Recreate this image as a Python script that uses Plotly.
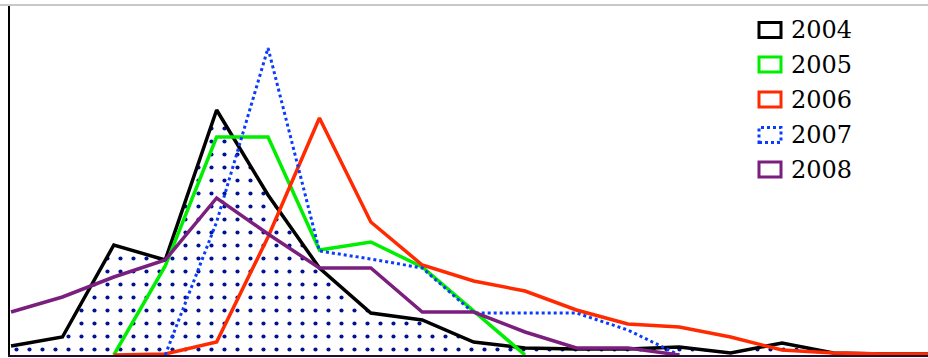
import plotly.graph_objects as go

years = ["2004", "2005", "2006", "2007", "2008"]
bins = list(range(19))

v2004 = [0.9, 1.8, 11.0, 9.5, 24.5, 16.0, 8.7, 4.2, 3.5, 1.3, 0.7, 0.6, 0.6, 0.8, 0.2, 1.2, 0.2, 0.1, 0.1]
v2005 = [None, None, 0, 8.9, 21.8, 21.8, 10.5, 11.3, 8.8, 4.4, 0, None, None, None, None, None, None, None, None]
v2006 = [None, None, 0, 0.1, 1.3, 11.8, 23.7, 13.3, 9.0, 7.4, 6.4, 4.5, 3.1, 2.8, 1.8, 0.5, 0.2, 0.1, 0.1]
v2007 = [None, None, None, 0, 13.3, 30.7, 10.4, 9.6, 8.7, 4.2, 4.2, 4.2, 2.5, 0, None, None, None, None, None]
v2008 = [4.3, 5.8, 7.8, 9.5, 15.7, 12.1, 8.7, 8.7, 4.3, 4.3, 2.3, 0.7, 0.7, 0, None, None, None, None, None]

colors = ["#000000", "#00ee00", "#ff2a00", "#0a3cff", "#7b1f7f"]
series = [v2004, v2005, v2006, v2007, v2008]

fig = go.Figure()
fig.add_trace(go.Scatter(
    x=bins, y=v2004, mode="lines", name="2004", fill="tozeroy",
    fillcolor="white",
    fillpattern=dict(shape=".", fgcolor="#001290", fgopacity=1, bgcolor="white",
                     size=13, solidity=0.08),
    line=dict(color=colors[0], width=3.5), showlegend=False,
))
for i in range(1, 5):
    fig.add_trace(go.Scatter(
        x=bins, y=series[i], mode="lines", name=years[i],
        line=dict(color=colors[i], width=3.5 if years[i] != "2007" else 3,
                  dash="dot" if years[i] == "2007" else "solid"),
        showlegend=False,
    ))

# custom legend (rectangle outlines + text)
shapes = []
annotations = []
row_y = [30, 64.5, 99.5, 135, 169.5]
H = 358
for i, yr in enumerate(years):
    cy = row_y[i]
    shapes.append(dict(
        type="rect", xref="paper", yref="paper",
        x0=(759 - 10) / 918, x1=(781 - 10) / 918,
        y0=(H - 3 - (cy + 7.5)) / 350, y1=(H - 3 - (cy - 7.5)) / 350,
        line=dict(color=colors[i], width=3, dash="dot" if yr == "2007" else "solid"),
        fillcolor="white",
    ))
    annotations.append(dict(
        xref="paper", yref="paper", x=(789 - 10) / 918, y=(H - 3 - cy) / 350,
        xanchor="left", yanchor="middle", text=yr, showarrow=False,
        font=dict(family="DejaVu Serif", size=24, color="black"),
    ))

# top gray frame line
shapes.append(dict(type="line", xref="paper", yref="paper", x0=-0.02, x1=1.0, y0=1, y1=1,
                   line=dict(color="#c8c8c8", width=2)))

fig.update_layout(
    width=928, height=358,
    margin=dict(l=10, r=0, t=5, b=3),
    paper_bgcolor="white", plot_bgcolor="white",
    shapes=shapes, annotations=annotations,
    xaxis=dict(range=[-0.02, 17.84], showgrid=False, zeroline=False, showticklabels=False,
               ticks="", showline=True, linecolor="#2a0a2a", linewidth=2),
    yaxis=dict(range=[0, 35], showgrid=False, zeroline=False, showticklabels=False,
               ticks="", showline=True, linecolor="black", linewidth=1.5),
    showlegend=False,
)

fig.write_html("out.html", config={"displayModeBar": False},
               post_script="document.body.style.margin='0';document.body.style.overflow='hidden';")
